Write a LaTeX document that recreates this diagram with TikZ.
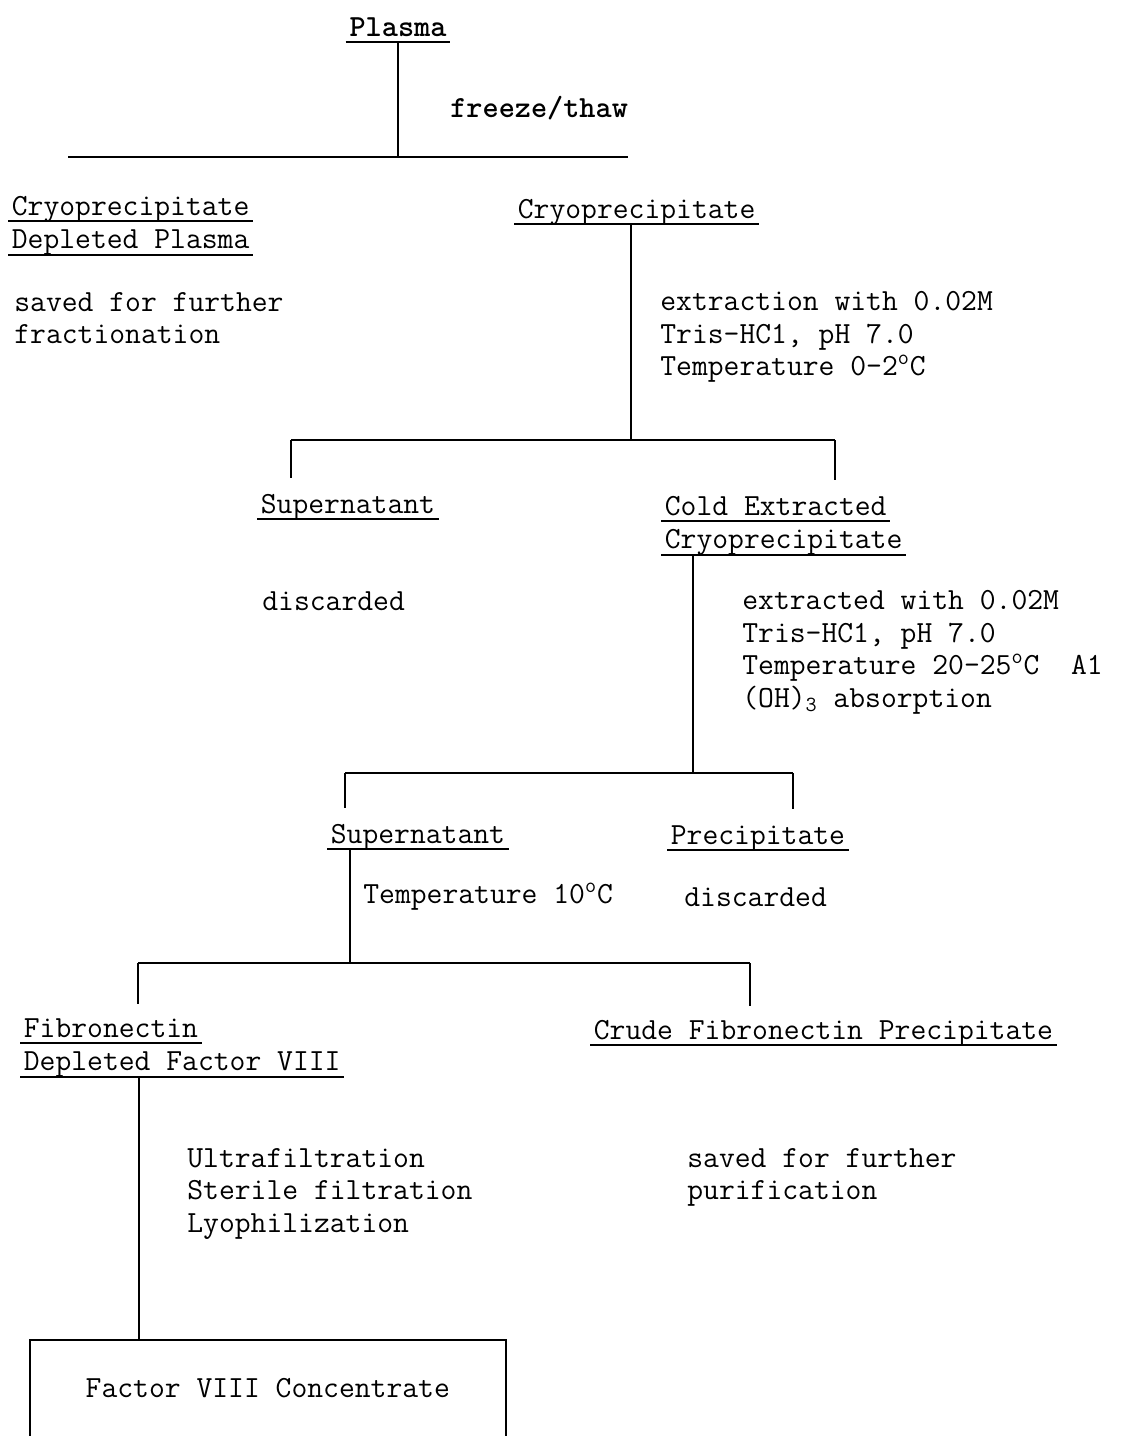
\documentclass[tikz,border=0pt]{standalone}
\usepackage{fontspec}
\usetikzlibrary{positioning}
\newcommand{\tw}{\ttfamily\fontsize{17.5pt}{18.5pt}\selectfont}
\newcommand{\dg}{\textsuperscript{o}}
\tikzset{
  ul/.style={inner xsep=2pt,inner ysep=1.5pt,text height=14.2pt,text depth=1.5pt},
  note/.style={inner sep=0pt,align=left},
  rule/.style={line width=1.2pt},
}

\begin{document}
\begin{tikzpicture}[x=0.02cm,y=-0.02cm,every node/.style={font=\tw}]
  \useasboundingbox (0,0) rectangle (1122,1436);
  % fractions
  \node[ul,font=\tw\bfseries,anchor=south] (plasma) at (398,42) {Plasma};
  \node[ul,anchor=south west] (cdp) at (8,221) {Cryoprecipitate};
  \node[ul,below=0pt of cdp.south west,anchor=north west] (cdpb) {Depleted Plasma};
  \node[ul,anchor=south west] (cryo) at (514,224) {Cryoprecipitate};
  \node[ul,anchor=south west] (sup1) at (257,519) {Supernatant};
  \node[ul,anchor=south west] (cec) at (661,521) {Cold Extracted};
  \node[ul,below=0pt of cec.south west,anchor=north west] (cecb) {Cryoprecipitate};
  \node[ul,anchor=south west] (sup2) at (327,849) {Supernatant};
  \node[ul,anchor=south west] (ppt) at (667,850) {Precipitate};
  \node[ul,anchor=south west] (fdf) at (20,1043) {Fibronectin};
  \node[ul,below=0pt of fdf.south west,anchor=north west] (fdfb) {Depleted Factor VIII};
  \node[ul,anchor=south west] (crude) at (590,1045) {Crude Fibronectin Precipitate};
  \node[inner sep=0pt,minimum width=9.5cm,minimum height=1.92cm,anchor=north west]
     (conc) at (30,1340) {Factor VIII Concentrate};
  \foreach \n in {plasma,cdp,cdpb,cryo,sup1,cec,cecb,sup2,ppt,fdf,fdfb,crude}
    \draw[rule] (\n.south west) -- (\n.south east);
  % process steps
  \node[note,font=\tw\bfseries,anchor=west] (freeze) at (450,108) {freeze/thaw};
  \node[note,anchor=north west] (saved1) at (14,292) {saved for further\\fractionation};
  \node[note,anchor=north west] (extr1) at (660,291)
     {extraction with 0.02M\\Tris-HC1, pH 7.0\\Temperature 0-2\dg C};
  \node[note,anchor=west] (disc1) at (262,601) {discarded};
  \node[note,anchor=north west] (extr2) at (742,590)
     {extracted with 0.02M\\Tris-HC1, pH 7.0\\Temperature 20-25\dg C\ \ A1\\(OH)\textsubscript{3} absorption};
  \node[note,anchor=west] (temp10) at (363,897) {Temperature 10\dg C};
  \node[note,anchor=west] (disc2) at (684,897) {discarded};
  \node[note,anchor=north west] (proc) at (187,1148)
     {Ultrafiltration\\Sterile filtration\\Lyophilization};
  \node[note,anchor=north west] (saved2) at (687,1148) {saved for further\\purification};
  % branch points
  \coordinate (b1l) at (68,157);  \coordinate (b1r) at (628,157);
  \coordinate (b2) at (631,440);  \coordinate (b2l) at (291,440); \coordinate (b2r) at (835,440);
  \coordinate (b3) at (693,773);  \coordinate (b3l) at (345,773); \coordinate (b3r) at (793,773);
  \coordinate (b4) at (350,963);  \coordinate (b4l) at (138,963); \coordinate (b4r) at (750,963);
  \coordinate (b5) at (139,1340);
  % connectors
  \draw[rule] (plasma.south) -- (plasma.south |- b1l);
  \draw[rule] (b1l) -- (b1r);
  \draw[rule] (b2 |- cryo.south) -- (b2);
  \draw[rule] (b2l) -- (b2r);
  \draw[rule,shorten >=4pt] (b2l) -- (b2l |- sup1.north);
  \draw[rule,shorten >=4pt] (b2r) -- (b2r |- cec.north);
  \draw[rule] (b3 |- cecb.south) -- (b3);
  \draw[rule] (b3l) -- (b3r);
  \draw[rule,shorten >=4pt] (b3l) -- (b3l |- sup2.north);
  \draw[rule,shorten >=4pt] (b3r) -- (b3r |- ppt.north);
  \draw[rule] (b4 |- sup2.south) -- (b4);
  \draw[rule] (b4l) -- (b4r);
  \draw[rule,shorten >=3pt] (b4l) -- (b4l |- fdf.north);
  \draw[rule,shorten >=3pt] (b4r) -- (b4r |- crude.north);
  \draw[rule] (b5 |- fdfb.south) -- (b5 |- conc.north);
  \draw[rule] (conc.south west) -- (conc.north west) -- (conc.north east) -- (conc.south east);
\end{tikzpicture}
\end{document}
